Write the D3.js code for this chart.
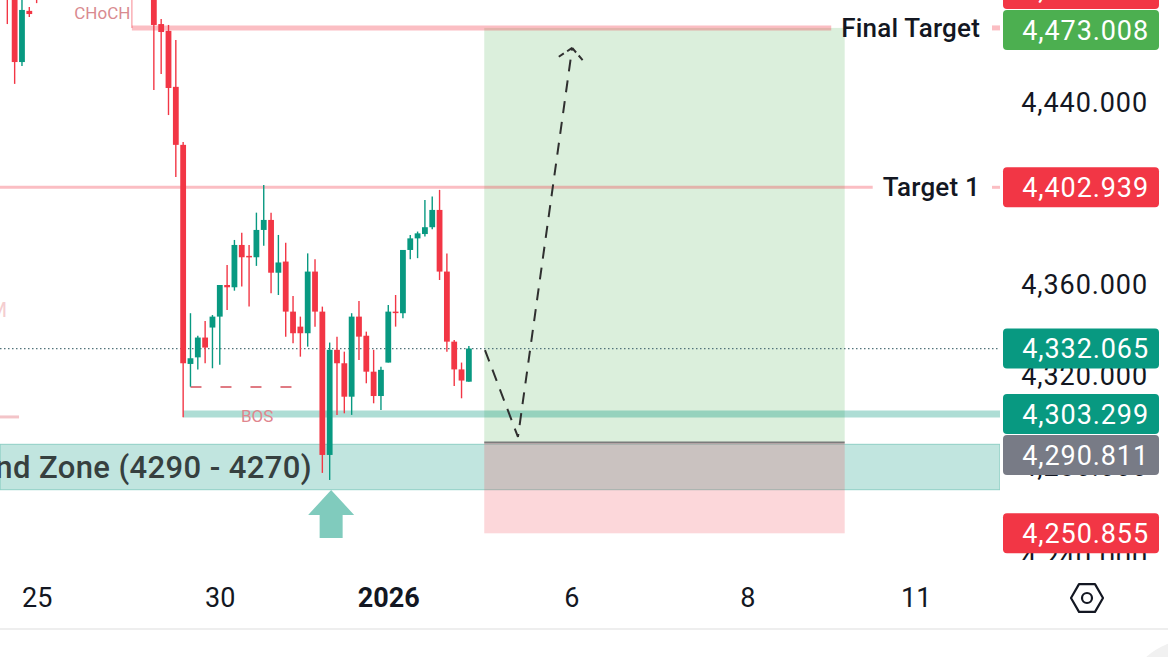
<!DOCTYPE html>
<html>
<head>
<meta charset="utf-8">
<script src="https://cdn.jsdelivr.net/npm/d3@7"></script>
<style>
  html, body { margin: 0; padding: 0; background: #fff; }
  svg { display: block; font-family: Roboto, "Noto Sans", sans-serif; }
</style>
</head>
<body>
<svg id="chart" width="1168" height="657"></svg>
<script>
// XAUUSD 2h -- demand zone long setup

///////////////////////////////////////////////////////////////////////////////
// Data

// [bar, open, high, low, close]; bar 0 is the long red drop candle
var candles = [
  [-24, 4497.9, 4500.9, 4474.7, 4488.9],
  [-23, 4490.9, 4492.9, 4448.4, 4458.0],
  [-22, 4458.0, 4488.9, 4456.3, 4480.9],
  [-21, 4480.5, 4482.2, 4477.8, 4479.1],
  [-20, 4492.9, 4494.9, 4483.9, 4489.9],
  [-4, 4490.9, 4495.9, 4445.7, 4474.3],
  [-3, 4474.7, 4476.9, 4452.8, 4471.2],
  [-2, 4471.7, 4474.3, 4434.7, 4446.6],
  [-1, 4447.1, 4467.7, 4407.5, 4421.6],
  [0, 4421.6, 4422.9, 4301.9, 4325.6],
  [1, 4325.3, 4347.6, 4315.3, 4327.8],
  [2, 4328.2, 4337.7, 4322.9, 4336.9],
  [3, 4336.9, 4344.2, 4325.6, 4332.5],
  [4, 4341.3, 4346.8, 4323.4, 4346.1],
  [5, 4346.1, 4360.0, 4324.9, 4360.0],
  [6, 4360.0, 4368.8, 4349.0, 4359.0],
  [7, 4359.0, 4379.8, 4357.5, 4377.6],
  [8, 4377.6, 4383.0, 4359.3, 4372.2],
  [9, 4372.8, 4377.6, 4350.5, 4372.2],
  [10, 4372.2, 4391.8, 4368.4, 4384.2],
  [11, 4384.2, 4404.0, 4377.2, 4388.6],
  [12, 4388.6, 4391.8, 4356.4, 4365.4],
  [13, 4365.4, 4382.0, 4355.6, 4369.9],
  [14, 4370.3, 4378.6, 4337.3, 4348.3],
  [15, 4348.3, 4355.2, 4334.4, 4338.8],
  [16, 4341.7, 4346.1, 4328.5, 4338.8],
  [17, 4338.8, 4373.9, 4332.9, 4365.9],
  [18, 4365.9, 4371.3, 4341.7, 4348.3],
  [19, 4348.3, 4350.5, 4277.4, 4285.3],
  [20, 4285.3, 4334.7, 4274.3, 4331.5],
  [21, 4331.5, 4337.3, 4302.9, 4325.6],
  [22, 4325.6, 4330.7, 4303.6, 4310.9],
  [23, 4310.9, 4347.6, 4302.9, 4346.1],
  [24, 4346.1, 4353.0, 4327.0, 4337.3],
  [25, 4337.7, 4339.5, 4316.8, 4321.9],
  [26, 4321.9, 4331.5, 4308.0, 4311.2],
  [27, 4311.2, 4324.1, 4305.1, 4322.7],
  [28, 4325.9, 4351.2, 4325.9, 4348.3],
  [29, 4348.3, 4355.6, 4341.7, 4347.9],
  [30, 4347.6, 4375.4, 4345.4, 4375.4],
  [31, 4375.4, 4382.0, 4371.3, 4380.5],
  [32, 4380.5, 4383.5, 4371.8, 4382.7],
  [33, 4382.4, 4397.4, 4381.3, 4385.4],
  [34, 4385.4, 4398.9, 4384.5, 4393.0],
  [35, 4393.0, 4401.8, 4362.2, 4365.9],
  [36, 4365.9, 4373.9, 4330.7, 4335.1],
  [37, 4335.1, 4335.8, 4315.6, 4322.9],
  [38, 4322.9, 4325.9, 4310.2, 4318.0],
  [39, 4317.5, 4333.2, 4317.5, 4332.065]
];

var dateBars = [-20, 5, 28, 53, 77, 100];
var dateLabels = ["25", "30", "2026", "6", "8", "11"];
var priceTicks = [4240, 4280, 4320, 4360, 4400, 4440];

var finalTarget = 4473.008;
var target1 = 4402.939;
var lastPrice = 4332.065;
var bosLevel = 4303.299;
var entry = 4290.811;
var stopLoss = 4250.855;
var zone = [4290, 4270];

// position tool spans these bars
var positionBars = [41.1, 90.3];
// projected move: bars and prices of the dashed path
var pathBars = [41.2, 45.7, 53.1];
var pathPrices = [4331.4, 4293.2, 4464.2];
// swing low marked with a dashed line
var swingBars = [1, 17];
var swingPrice = 4315.2;

// price scale markers, top to bottom
var markValues = [4490.1, 4473.008, 4402.939, 4332.065, 4303.299, 4290.811, 4250.855];
var markKinds = ["down", "final", "down", "up", "up", "entry", "down"];

///////////////////////////////////////////////////////////////////////////////
// Setup

var W = 1000, H = 560;
var up = "#089981", down = "#f23645";
var kindColor = {down: "#f23645", up: "#089981", final: "#4caf50", entry: "#787b86"};

var svg = d3.select("#chart");
var x = d3.scaleLinear().domain([-25, 111.5]).range([0, W]);
var y = d3.scaleLinear().domain([4240, 4440]).range([558, 103]);

var defs = svg.append("defs");
defs.append("clipPath").attr("id", "pane")
  .append("rect").attr("width", W).attr("height", H);
defs.append("clipPath").attr("id", "scale")
  .append("rect").attr("x", W).attr("width", 168).attr("height", H);

var pane = svg.append("g").attr("clip-path", "url(#pane)");

///////////////////////////////////////////////////////////////////////////////
// Zones and boxes

pane.append("rect")
  .attr("x", 0).attr("width", W)
  .attr("y", y(zone[0])).attr("height", y(zone[1]) - y(zone[0]))
  .attr("fill", "rgba(8,153,129,0.25)")
  .attr("stroke", "rgba(8,153,129,0.35)").attr("stroke-width", 1);

pane.append("rect")
  .attr("x", x(positionBars[0])).attr("width", x(positionBars[1]) - x(positionBars[0]))
  .attr("y", y(finalTarget)).attr("height", y(entry) - y(finalTarget))
  .attr("fill", "rgba(76,175,80,0.2)");
pane.append("rect")
  .attr("x", x(positionBars[0])).attr("width", x(positionBars[1]) - x(positionBars[0]))
  .attr("y", y(entry)).attr("height", y(stopLoss) - y(entry))
  .attr("fill", "rgba(242,54,69,0.2)");
pane.append("line")
  .attr("x1", x(positionBars[0])).attr("x2", x(positionBars[1]))
  .attr("y1", y(entry)).attr("y2", y(entry))
  .attr("stroke", "#7b7b7b").attr("stroke-width", 2);

// faint leftovers of older drawings on the far left
pane.append("line")
  .attr("x1", 0).attr("x2", x(-22.4))
  .attr("y1", y(4302)).attr("y2", y(4302))
  .attr("stroke", "#f3c4c8").attr("stroke-width", 3);
pane.append("text")
  .attr("x", x(-24.05)).attr("y", y(4349)).attr("dy", "0.35em")
  .attr("text-anchor", "end")
  .attr("font-size", 21).attr("fill", "#f4cdd0")
  .text("M");

// BOS level
pane.append("line")
  .attr("x1", x(0)).attr("x2", W)
  .attr("y1", y(bosLevel)).attr("y2", y(bosLevel))
  .attr("stroke", "rgba(8,153,129,0.33)").attr("stroke-width", 7);

// last price
pane.append("line")
  .attr("x1", 0).attr("x2", W)
  .attr("y1", y(lastPrice)).attr("y2", y(lastPrice))
  .attr("stroke", "#52737a").attr("stroke-width", 1.2)
  .attr("stroke-dasharray", "1.5,2.5");

// swing low
pane.append("line")
  .attr("x1", x(swingBars[0])).attr("x2", x(swingBars[1]))
  .attr("y1", y(swingPrice)).attr("y2", y(swingPrice))
  .attr("stroke", "#e07a83").attr("stroke-width", 2)
  .attr("stroke-dasharray", "11,19");

///////////////////////////////////////////////////////////////////////////////
// Candles

var bw = 5.8;
var gc = pane.append("g");
gc.selectAll("line").data(candles).join("line")
  .attr("x1", function (d) { return x(d[0]); })
  .attr("x2", function (d) { return x(d[0]); })
  .attr("y1", function (d) { return y(d[2]); })
  .attr("y2", function (d) { return y(d[3]); })
  .attr("stroke", function (d) { return d[4] >= d[1] ? up : down; })
  .attr("stroke-width", 1.4);
gc.selectAll("rect").data(candles).join("rect")
  .attr("x", function (d) { return x(d[0]) - bw / 2; })
  .attr("width", bw)
  .attr("y", function (d) { return y(Math.max(d[1], d[4])); })
  .attr("height", function (d) { return Math.max(1.5, Math.abs(y(d[1]) - y(d[4]))); })
  .attr("fill", function (d) { return d[4] >= d[1] ? up : down; });

///////////////////////////////////////////////////////////////////////////////
// Target lines with their names

var levelNames = ["Final Target", "Target 1"];
var levelPrices = [finalTarget, target1];
var levelFrom = [-7, -25];
var levelWidth = [5, 3];

levelNames.forEach(function (name, i) {
  var t = pane.append("text")
    .attr("x", 980).attr("y", y(levelPrices[i])).attr("dy", "0.35em")
    .attr("text-anchor", "end")
    .attr("font-size", 26).attr("font-weight", 500).attr("fill", "#131722")
    .attr("letter-spacing", 0.2)
    .text(name);
  var len = t.node().getComputedTextLength();
  var segs = [[x(levelFrom[i]), 980 - len - 10], [992, W]];
  segs.forEach(function (s) {
    pane.insert("line", "text")
      .attr("x1", s[0]).attr("x2", s[1])
      .attr("y1", y(levelPrices[i])).attr("y2", y(levelPrices[i]))
      .attr("stroke", "rgba(242,54,69,0.32)").attr("stroke-width", levelWidth[i]);
  });
});

// CHoCH leg
pane.append("line")
  .attr("x1", x(-7)).attr("x2", x(-7))
  .attr("y1", 0).attr("y2", y(finalTarget))
  .attr("stroke", "rgba(242,54,69,0.4)").attr("stroke-width", 1.5);
pane.append("text")
  .attr("x", x(-7.2)).attr("y", y(4479.6)).attr("dy", "0.35em")
  .attr("text-anchor", "end")
  .attr("font-size", 17).attr("fill", "#d98a90")
  .text("CHoCH");

pane.append("text")
  .attr("x", x(10.1)).attr("y", y(4302.4)).attr("dy", "0.35em")
  .attr("text-anchor", "middle")
  .attr("font-size", 17).attr("fill", "#e0868e")
  .text("BOS");

pane.append("text")
  .attr("x", x(17.6)).attr("y", y((zone[0] + zone[1]) / 2)).attr("dy", "0.36em")
  .attr("text-anchor", "end")
  .attr("font-size", 31).attr("font-weight", 500).attr("fill", "#36403f")
  .attr("letter-spacing", 0.4)
  .text("Demand Zone (4290 - 4270)");

// up arrow under the sweep candle
var ax = x(20.2), ay = y(4269.9);
pane.append("path")
  .attr("d", "M" + ax + "," + ay +
    " l23,25 h-11.5 v23 h-23 v-23 h-11.5 z")
  .attr("fill", "#80cbbd");

// projected path
var pts = pathBars.map(function (b, i) { return [x(b), y(pathPrices[i])]; });
pane.append("path")
  .attr("d", d3.line()(pts))
  .attr("fill", "none").attr("stroke", "#2f2f2f").attr("stroke-width", 2)
  .attr("stroke-dasharray", "12,9");
var tip = pts[2], prev = pts[1];
var ang = Math.atan2(tip[1] - prev[1], tip[0] - prev[0]);
[-1, 1].forEach(function (s) {
  var a = ang + Math.PI + s * 0.85;
  pane.append("line")
    .attr("x1", tip[0]).attr("y1", tip[1])
    .attr("x2", tip[0] + 16 * Math.cos(a)).attr("y2", tip[1] + 16 * Math.sin(a))
    .attr("stroke", "#2f2f2f").attr("stroke-width", 2)
    .attr("stroke-dasharray", "6,4");
});

///////////////////////////////////////////////////////////////////////////////
// Price scale

var ps = svg.append("g").attr("clip-path", "url(#scale)");
var yAxis = ps.append("g")
  .attr("transform", "translate(" + W + ",0)")
  .call(d3.axisRight(y).tickValues(priceTicks).tickSize(0).tickFormat(d3.format(",.3f")));
yAxis.select(".domain").remove();
yAxis.selectAll("text")
  .attr("x", 148).attr("text-anchor", "end")
  .attr("font-size", 27).attr("letter-spacing", 0.9)
  .attr("font-family", "Roboto, sans-serif")
  .attr("fill", "#131722");

var prevBottom = -Infinity;
var marks = markValues.map(function (v, i) {
  var top = y(v) - 20;
  if (top < prevBottom + 1) top = prevBottom + 1;
  prevBottom = top + 40;
  return {v: v, kind: markKinds[i], top: top};
});
var mg = ps.selectAll("g.mark").data(marks).join("g").attr("class", "mark");
mg.append("rect")
  .attr("x", 1003).attr("width", 156)
  .attr("y", function (d) { return d.top; }).attr("height", 40)
  .attr("rx", 4)
  .attr("fill", function (d) { return kindColor[d.kind]; });
mg.append("text")
  .attr("x", 1149).attr("y", function (d) { return d.top + 20; }).attr("dy", "0.36em")
  .attr("text-anchor", "end")
  .attr("font-size", 27).attr("letter-spacing", 0.9).attr("fill", "#fff")
  .text(function (d) { return d3.format(",.3f")(d.v); });

///////////////////////////////////////////////////////////////////////////////
// Time scale

var xAxis = svg.append("g")
  .attr("transform", "translate(0,597)")
  .call(d3.axisBottom(x).tickValues(dateBars).tickSize(0)
    .tickFormat(function (d, i) { return dateLabels[i]; }));
xAxis.select(".domain").remove();
xAxis.selectAll("text")
  .attr("y", 0).attr("dy", "0.36em")
  .attr("font-size", 27).attr("font-family", "Roboto, sans-serif")
  .attr("fill", "#131722")
  .attr("font-weight", function (d, i) { return dateLabels[i] === "2026" ? 700 : 400; });

// settings icon
var hex = d3.range(6).map(function (k) {
  var a = k * Math.PI / 3;
  return [1087 + 16 * Math.cos(a), 598 + 16 * Math.sin(a)];
});
svg.append("path")
  .attr("d", d3.line()(hex) + "Z")
  .attr("fill", "none").attr("stroke", "#131722").attr("stroke-width", 2.2)
  .attr("stroke-linejoin", "round");
svg.append("circle")
  .attr("cx", 1087).attr("cy", 598).attr("r", 5)
  .attr("fill", "none").attr("stroke", "#131722").attr("stroke-width", 2.2);

// bottom edge of the screen
svg.append("line")
  .attr("x1", 0).attr("x2", 1168).attr("y1", 629).attr("y2", 629)
  .attr("stroke", "#eeeeee").attr("stroke-width", 2);
svg.append("circle")
  .attr("cx", 1190).attr("cy", 705).attr("r", 65)
  .attr("fill", "#f1f1f1");
</script>
</body>
</html>
